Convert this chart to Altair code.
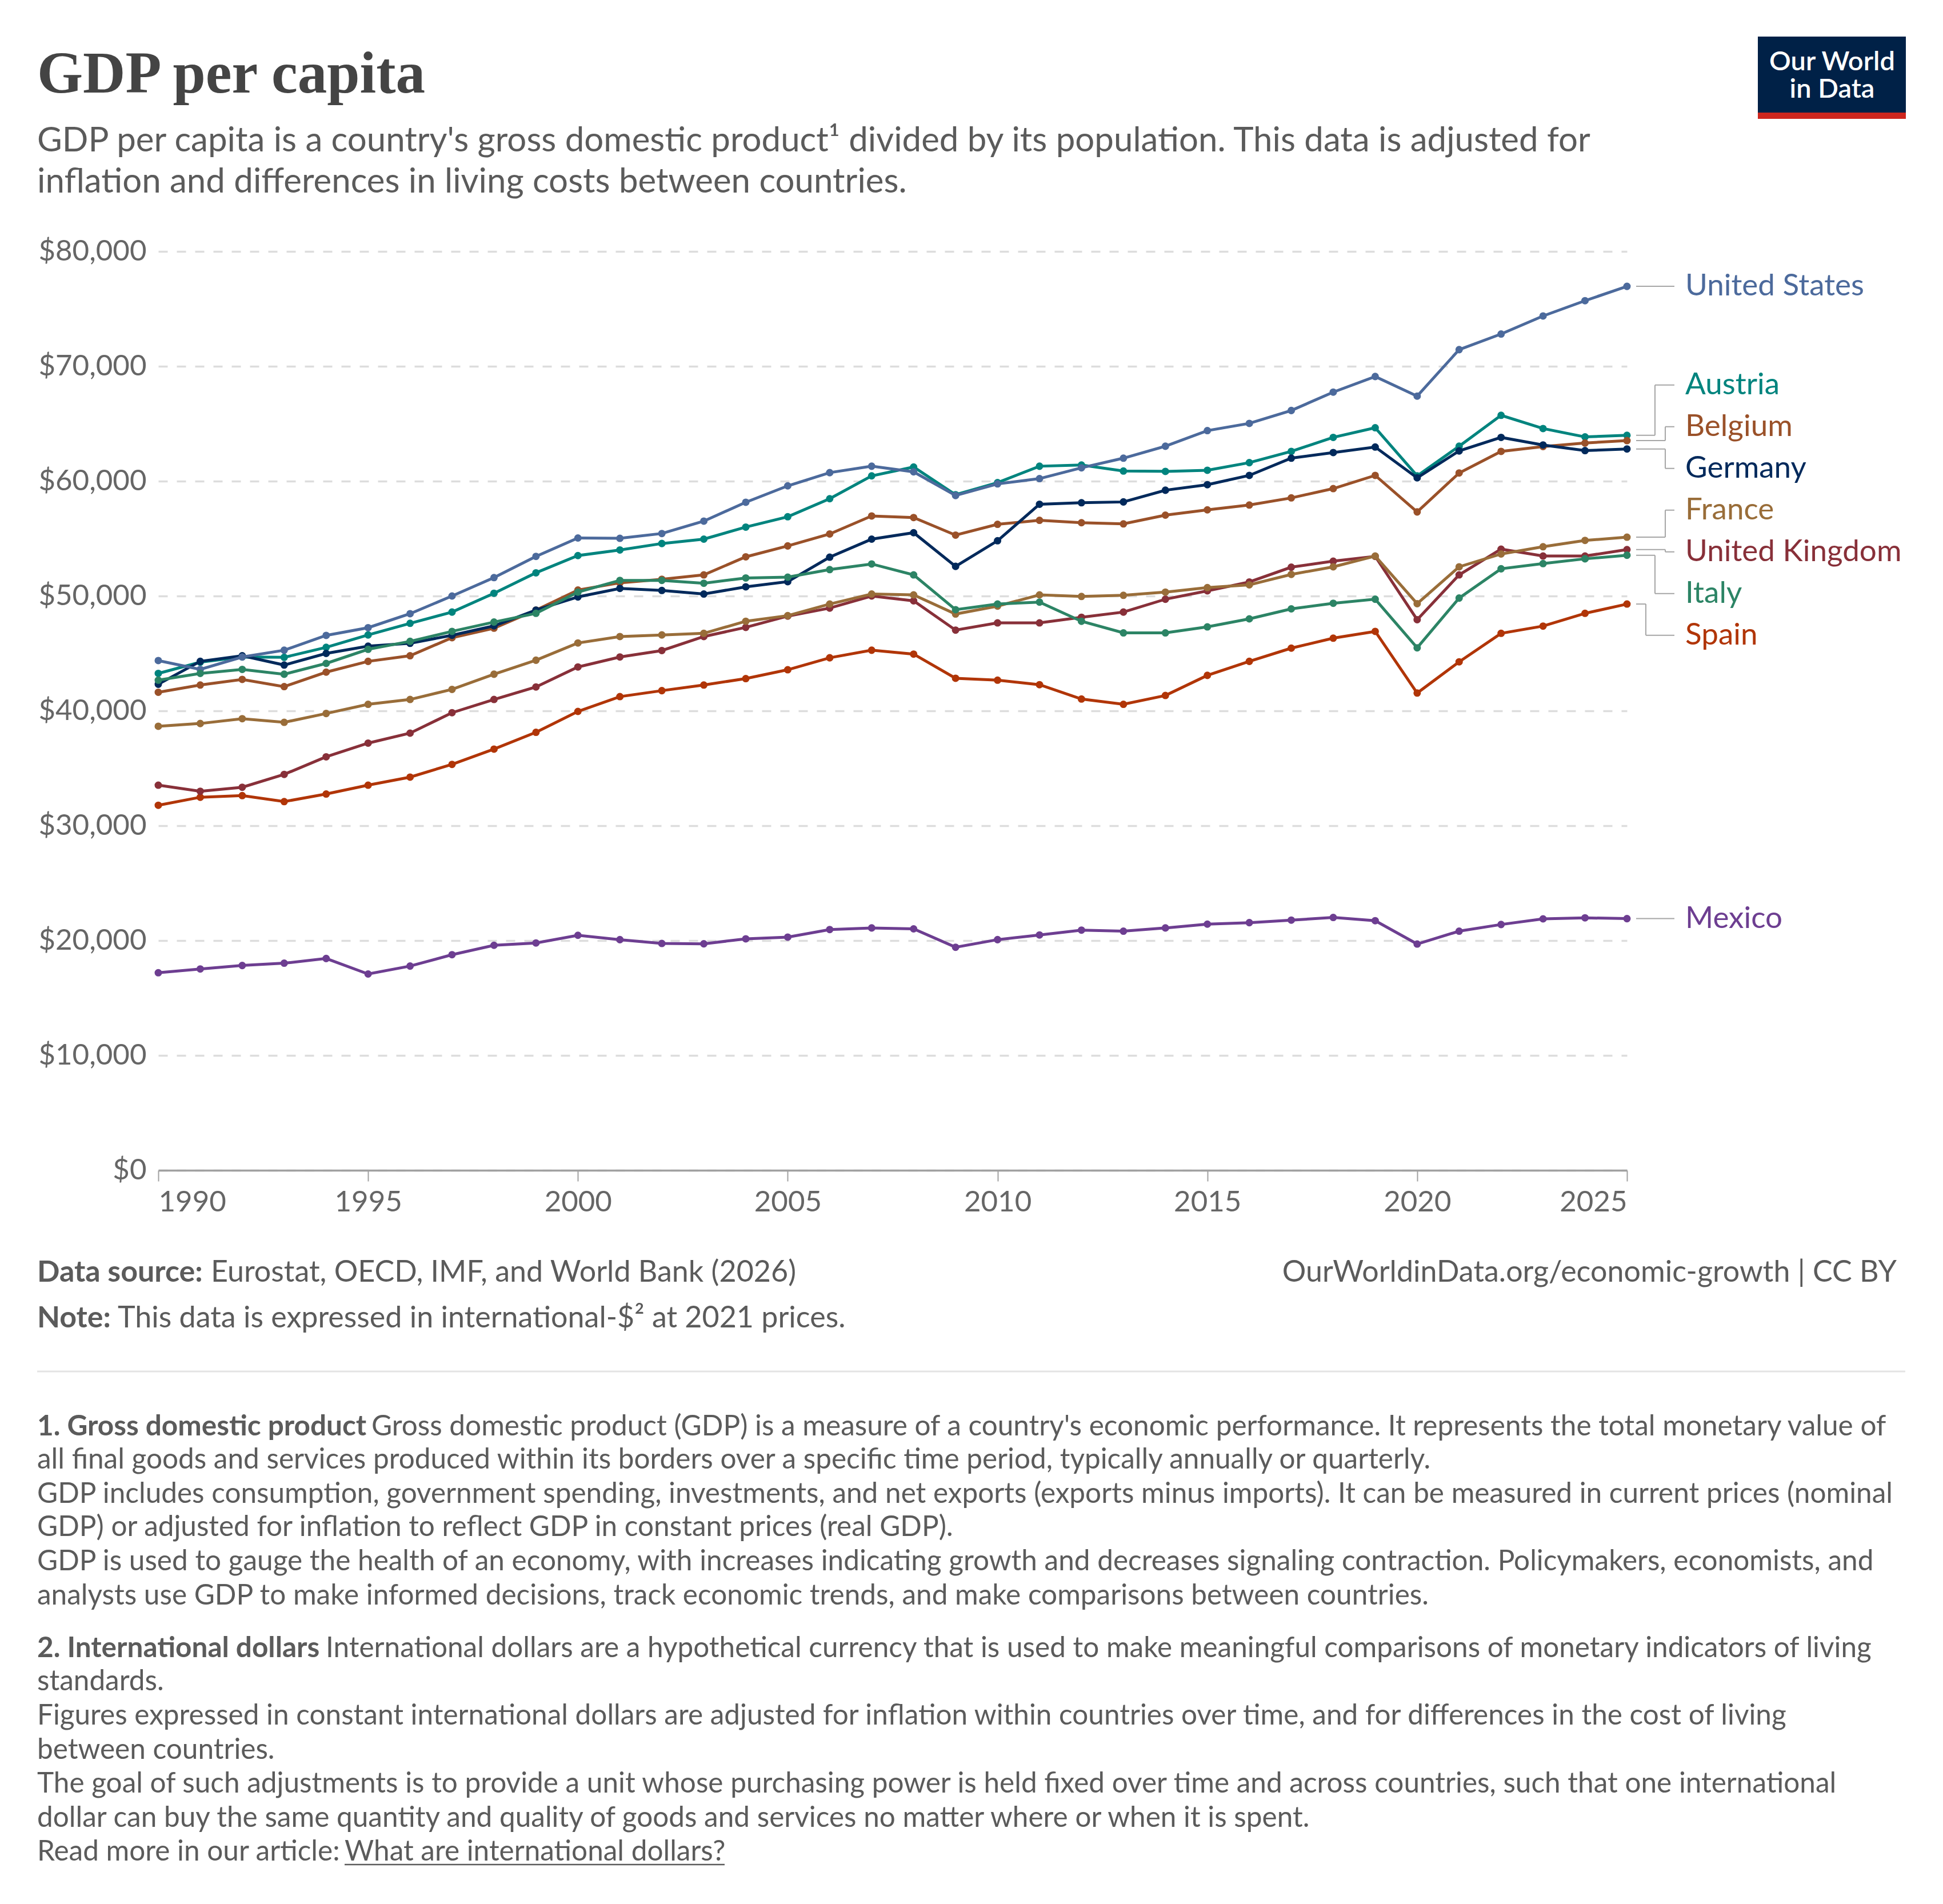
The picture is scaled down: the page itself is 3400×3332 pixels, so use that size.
import altair as alt
import pandas as pd

# ---------------- data ----------------
YEARS = list(range(1990, 2026))

UNITED_STATES = [44380, 43610, 44690, 45280, 46570, 47240, 48460, 50000, 51600, 53450,
                 55050, 55020, 55440, 56520, 58160, 59590, 60740, 61300, 60810, 58750,
                 59760, 60220, 61160, 62000, 63040, 64400, 65030, 66150, 67750, 69110,
                 67400, 71450, 72810, 74380, 75710, 76960]
AUSTRIA = [43260, 44240, 44690, 44660, 45530, 46610, 47620, 48600, 50240, 52020,
           53520, 54010, 54570, 54950, 56000, 56900, 58470, 60460, 61230, 58820,
           59870, 61300, 61400, 60880, 60850, 60950, 61610, 62590, 63810, 64650,
           60460, 63040, 65730, 64580, 63850, 63990]
BELGIUM = [41620, 42250, 42740, 42110, 43370, 44310, 44800, 46370, 47200, 48770,
           50520, 51150, 51460, 51840, 53410, 54360, 55400, 56970, 56830, 55300,
           56240, 56590, 56380, 56280, 57040, 57500, 57920, 58540, 59350, 60500,
           57320, 60710, 62590, 63010, 63320, 63530]
GERMANY = [42320, 44310, 44800, 43990, 45000, 45630, 45880, 46580, 47400, 48770,
           49920, 50660, 50480, 50170, 50800, 51250, 53380, 54950, 55510, 52580,
           54810, 57990, 58120, 58190, 59210, 59690, 60500, 62000, 62490, 62970,
           60290, 62630, 63810, 63150, 62660, 62800]
FRANCE = [38660, 38900, 39320, 39000, 39770, 40570, 40990, 41870, 43190, 44410,
          45910, 46470, 46610, 46750, 47800, 48290, 49300, 50170, 50100, 48430,
          49120, 50100, 49960, 50060, 50340, 50730, 50970, 51880, 52540, 53480,
          49330, 52540, 53660, 54290, 54840, 55120]
UNITED_KINGDOM = [33530, 33000, 33350, 34470, 36000, 37190, 38060, 39840, 40990, 42080,
                  43820, 44690, 45250, 46470, 47270, 48250, 48950, 50000, 49580, 47030,
                  47660, 47660, 48150, 48600, 49720, 50450, 51220, 52510, 53030, 53450,
                  47940, 51840, 54080, 53480, 53480, 54040]
ITALY = [42670, 43260, 43610, 43190, 44130, 45360, 46050, 46920, 47730, 48490,
         50340, 51360, 51360, 51110, 51570, 51640, 52300, 52790, 51840, 48810,
         49300, 49470, 47800, 46790, 46790, 47310, 48010, 48880, 49370, 49720,
         45490, 49820, 52370, 52820, 53240, 53550]
SPAIN = [31780, 32480, 32620, 32100, 32760, 33530, 34230, 35340, 36670, 38130,
         39950, 41240, 41760, 42250, 42810, 43580, 44620, 45280, 44940, 42840,
         42670, 42280, 41030, 40570, 41340, 43090, 44310, 45460, 46330, 46920,
         41550, 44270, 46750, 47380, 48490, 49300]
MEXICO = [17200, 17530, 17830, 18030, 18440, 17090, 17780, 18770, 19590, 19790,
          20460, 20080, 19750, 19720, 20150, 20300, 20960, 21100, 21020, 19420,
          20080, 20490, 20910, 20820, 21100, 21430, 21560, 21780, 22010, 21730,
          19700, 20820, 21400, 21890, 21980, 21910]

# drawing order (bottom -> top)
SERIES = [
    ("Austria", AUSTRIA),
    ("Belgium", BELGIUM),
    ("Germany", GERMANY),
    ("United States", UNITED_STATES),
    ("Spain", SPAIN),
    ("United Kingdom", UNITED_KINGDOM),
    ("France", FRANCE),
    ("Italy", ITALY),
    ("Mexico", MEXICO),
]

Y_TICKS = [0, 10000, 20000, 30000, 40000, 50000, 60000, 70000, 80000]
X_TICKS = [1990, 1995, 2000, 2005, 2010, 2015, 2020, 2025]

TITLE = "GDP per capita"
SUBTITLE = [
    "GDP per capita is a country's gross domestic product\u00b9 divided by its population. This data is adjusted for",
    "inflation and differences in living costs between countries.",
]
SOURCE_BOLD = "Data source:"
SOURCE_TEXT = "Eurostat, OECD, IMF, and World Bank (2026)"
NOTE_BOLD = "Note:"
NOTE_TEXT = "This data is expressed in international-$\u00b2 at 2021 prices."
URL_TEXT = "OurWorldinData.org/economic-growth | CC BY"
FOOT1_BOLD = "1. Gross domestic product"
FOOT1 = [
    "Gross domestic product (GDP) is a measure of a country's economic performance. It represents the total monetary value of",
    "all final goods and services produced within its borders over a specific time period, typically annually or quarterly.",
    "GDP includes consumption, government spending, investments, and net exports (exports minus imports). It can be measured in current prices (nominal",
    "GDP) or adjusted for inflation to reflect GDP in constant prices (real GDP).",
    "GDP is used to gauge the health of an economy, with increases indicating growth and decreases signaling contraction. Policymakers, economists, and",
    "analysts use GDP to make informed decisions, track economic trends, and make comparisons between countries.",
]
FOOT2_BOLD = "2. International dollars"
FOOT2 = [
    "International dollars are a hypothetical currency that is used to make meaningful comparisons of monetary indicators of living",
    "standards.",
    "Figures expressed in constant international dollars are adjusted for inflation within countries over time, and for differences in the cost of living",
    "between countries.",
    "The goal of such adjustments is to provide a unit whose purchasing power is held fixed over time and across countries, such that one international",
    "dollar can buy the same quantity and quality of goods and services no matter where or when it is spent.",
]
READ_MORE = "Read more in our article: "
LINK_TEXT = "What are international dollars?"

# ---------------- style ----------------
COLORS = {
    "United States": "#4C6A9C",
    "Austria": "#00847E",
    "Belgium": "#9A5129",
    "Germany": "#00295B",
    "France": "#996D39",
    "United Kingdom": "#883039",
    "Italy": "#2C8465",
    "Spain": "#B13507",
    "Mexico": "#6D3E91",
}
KNEE_PX = {"Austria": 49, "Belgium": 67, "Germany": 67, "France": 67,
           "United Kingdom": 67, "Italy": 49, "Spain": 33,
           "United States": 50, "Mexico": 50}

W, H = 2570, 1608
PAD = {"left": 269, "top": 432, "right": 545, "bottom": 1276}
X0, X1 = 1990, 2025
YMAX = 80000
PX_PER_YEAR = W / (X1 - X0)
PX_PER_DOLLAR = H / YMAX
LABEL_GAP_PX = 73
FONT = "Lato"
GREY = "#5b5b5b"

# ---------------- data frames ----------------
rows = []
for name, vals in SERIES:
    for yr, v in zip(YEARS, vals):
        rows.append({"country": name, "year": yr, "value": v})
df = pd.DataFrame(rows)

# label placement: merge overlapping labels into clusters centred on mean value
ends = sorted([(vals[-1], name) for name, vals in SERIES], reverse=True)
gap = LABEL_GAP_PX / PX_PER_DOLLAR
clusters = [[e] for e in ends]


def positions(cl):
    c = sum(v for v, _ in cl) / len(cl)
    n = len(cl)
    return [c + gap * ((n - 1) / 2 - i) for i in range(n)]


changed = True
while changed:
    changed = False
    for i in range(len(clusters) - 1):
        a, b = positions(clusters[i]), positions(clusters[i + 1])
        if a[-1] - b[0] < gap - 1e-6:
            clusters[i] = clusters[i] + clusters[i + 1]
            del clusters[i + 1]
            changed = True
            break

label_rows, seg_rows = [], []
lab_x = X1 + 102 / PX_PER_YEAR
start_x = X1 + 16 / PX_PER_YEAR
end_x = X1 + 83 / PX_PER_YEAR
for cl in clusters:
    for (v, name), ly in zip(cl, positions(cl)):
        label_rows.append({"country": name, "lx": lab_x, "ly": ly})
        kx = X1 + KNEE_PX[name] / PX_PER_YEAR
        seg_rows.append({"x": start_x, "x2": kx, "y": v, "y2": v})
        seg_rows.append({"x": kx, "x2": kx, "y": v, "y2": ly})
        seg_rows.append({"x": kx, "x2": end_x, "y": ly, "y2": ly})
labels_df = pd.DataFrame(label_rows)
seg_df = pd.DataFrame(seg_rows)

# ---------------- encodings ----------------
x_scale = alt.Scale(domain=[X0, X1], nice=False, zero=False)
y_scale = alt.Scale(domain=[0, YMAX], nice=False, zero=True)
x_axis = alt.Axis(values=X_TICKS, format="d", labelFlush=True, grid=False,
                  gridColor="transparent",
                  tickSize=19, tickWidth=2, tickColor="#a1a1a1",
                  domainColor="#a1a1a1", domainWidth=3.5,
                  labelFont=FONT, labelFontSize=51, labelColor="#666666",
                  labelPadding=12, title=None)
y_axis = alt.Axis(values=Y_TICKS, labelExpr="'$' + format(datum.value, ',')",
                  grid=True, gridDash=[16, 16], gridColor="#dddddd", gridWidth=3.5,
                  domain=False, domainColor="transparent", ticks=False, labelFont=FONT,
                  labelFontSize=51, labelLimit=500,
                  labelColor="#666666", labelPadding=21, title=None)


def X(field):
    return alt.X(f"{field}:Q", scale=x_scale, axis=x_axis)


def Y(field):
    return alt.Y(f"{field}:Q", scale=y_scale, axis=y_axis)


layers = []
for name, _ in SERIES:
    c = COLORS[name]
    layers.append(
        alt.Chart(df[df.country == name])
        .mark_line(color=c, strokeWidth=5,
                   point=alt.OverlayMarkDef(filled=True, size=170, color=c, opacity=1))
        .encode(x=X("year"), y=Y("value"))
    )

layers.append(
    alt.Chart(seg_df).mark_rule(color="#a6a6a6", strokeWidth=2)
    .encode(x=X("x"), x2="x2", y=Y("y"), y2="y2")
)
layers.append(
    alt.Chart(labels_df).mark_text(align="left", baseline="middle", font=FONT, fontSize=53)
    .encode(x=X("lx"), y=Y("ly"), text="country:N",
            color=alt.Color("country:N", scale=alt.Scale(domain=list(COLORS.keys()),
                                                         range=list(COLORS.values())),
                            legend=None))
)

one = pd.DataFrame({"k": [0]})


def txt(text, x, y, size, color=GREY, weight="normal", font=FONT, align="left"):
    return (alt.Chart(one)
            .mark_text(text=text, align=align, baseline="alphabetic", font=font,
                       fontSize=size, fontWeight=weight, color=color)
            .encode(x=alt.value(x), y=alt.value(y)))


LEFT = -212
# title / subtitle
layers.append(txt(TITLE, LEFT, -278, 103, color="#444444", weight="bold", font="Liberation Serif"))
layers.append(txt(SUBTITLE[0], LEFT, -175, 60))
layers.append(txt(SUBTITLE[1], LEFT, -103, 60))

# logo
layers.append(alt.Chart(one).mark_rect(color="#002147")
              .encode(x=alt.value(2799), x2=alt.value(3058), y=alt.value(-376), y2=alt.value(-243)))
layers.append(alt.Chart(one).mark_rect(color="#ce261e")
              .encode(x=alt.value(2799), x2=alt.value(3058), y=alt.value(-243), y2=alt.value(-232)))
layers.append(txt("Our World", 2929, -317, 47, color="#ffffff", weight=600, align="center"))
layers.append(txt("in Data", 2929, -269, 47, color="#ffffff", weight=600, align="center"))

# footer
layers.append(txt(SOURCE_BOLD, LEFT, 1803, 52, weight="bold"))
layers.append(txt(SOURCE_TEXT, 92, 1803, 52))
layers.append(txt(URL_TEXT, 3042, 1803, 52, align="right"))
layers.append(txt(NOTE_BOLD, LEFT, 1883, 52, weight="bold"))
layers.append(txt(NOTE_TEXT, -71, 1883, 52))
layers.append(alt.Chart(one).mark_rule(color="#e3e3e3", strokeWidth=3)
              .encode(x=alt.value(LEFT), x2=alt.value(3057), y=alt.value(1960)))

# footnotes
FS = 49.5
F1_Y = [2072, 2130, 2190, 2248, 2308, 2368]
F2_Y = [2460, 2518, 2578, 2638, 2697, 2757]
layers.append(txt(FOOT1_BOLD, LEFT, F1_Y[0], FS, weight="bold"))
layers.append(txt(FOOT1[0], 373, F1_Y[0], FS))
for t, yy in zip(FOOT1[1:], F1_Y[1:]):
    layers.append(txt(t, LEFT, yy, FS))
layers.append(txt(FOOT2_BOLD, LEFT, F2_Y[0], FS, weight="bold"))
layers.append(txt(FOOT2[0], 293, F2_Y[0], FS))
for t, yy in zip(FOOT2[1:], F2_Y[1:]):
    layers.append(txt(t, LEFT, yy, FS))
layers.append(txt(READ_MORE, LEFT, 2816, FS))
layers.append(txt(LINK_TEXT, 326, 2816, FS))
layers.append(alt.Chart(one).mark_rule(color=GREY, strokeWidth=2.5)
              .encode(x=alt.value(326), x2=alt.value(991), y=alt.value(2823)))

chart = (
    alt.layer(*layers)
    .properties(width=W, height=H, padding=PAD, autosize=alt.AutoSizeParams(type="none"))
    .configure_view(stroke="transparent", strokeWidth=0)
    .configure_axisY(domain=False)
    .configure_axisX(grid=False)
    .configure(background="#ffffff", style={"cell": {"stroke": "transparent"}})
)

chart.save("out.html", embed_options={"renderer": "svg", "actions": False})
